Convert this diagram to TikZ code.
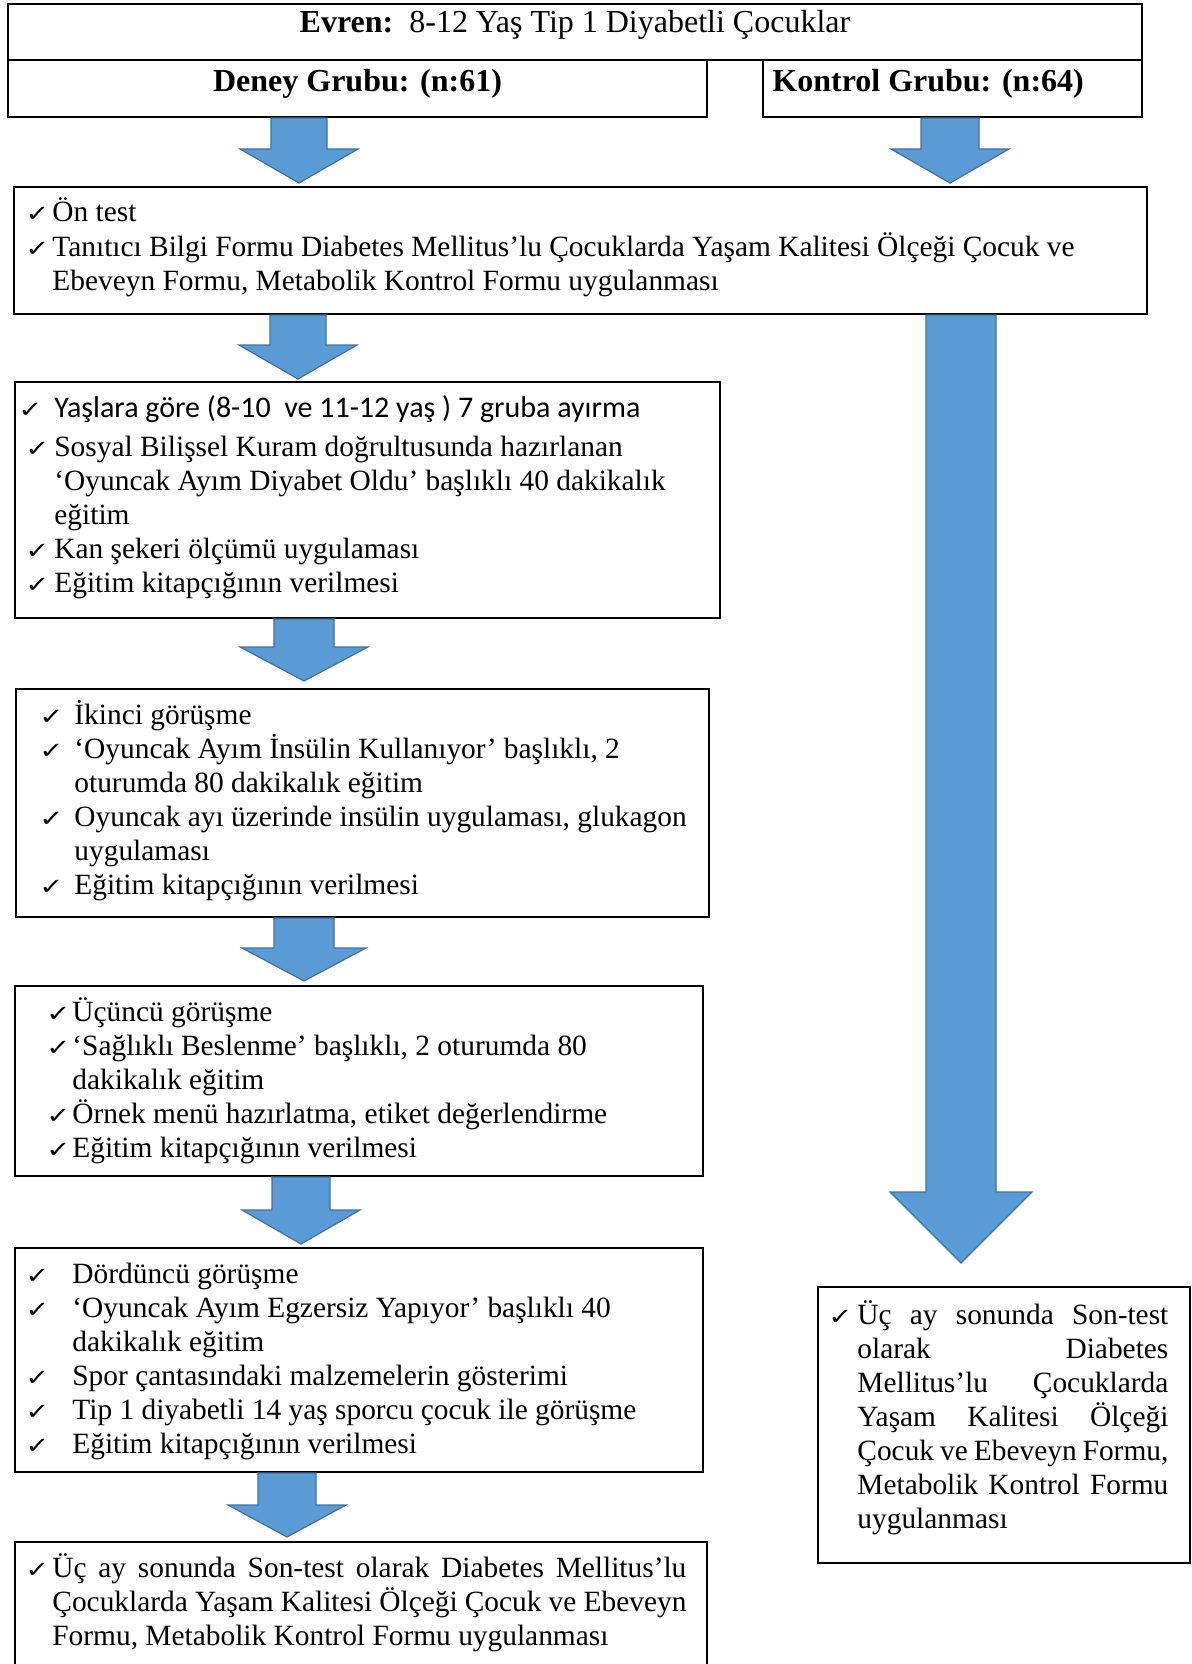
\documentclass[tikz,border=0pt]{standalone}
\usepackage{fontspec}
\setmainfont{Liberation Serif}
\newfontfamily\calibri{Carlito}
\newfontfamily\chkfont{DejaVu Sans}
\usepackage{array}
\usetikzlibrary{calc}

\newlength{\pxu}\setlength{\pxu}{0.5pt}
\definecolor{arrowblue}{RGB}{91,155,213}
\definecolor{arrowedge}{RGB}{65,113,156}
\newcommand{\ck}{\scalebox{1}[0.78]{\chkfont\fontsize{14.5}{14.5}\selectfont ✓}}
\newcommand{\jline}[2]{\makebox[#1\pxu][s]{#2}}
\newenvironment{checks}[1]{\begin{tabular}[t]{@{}p{#1\pxu}@{}l@{}}}{\end{tabular}}
% fat block arrow: from, to, shaft half width, head half width, head length, gap
\newcommand{\bigarrow}[6]{%
  \filldraw[fatarrow] ($(#1)+(-#3,0)$) -- ($(#2)+(-#3,-#5-#6)$) -- ($(#2)+(-#4,-#5-#6)$)
    -- ($(#2)+(0,-#6)$) -- ($(#2)+(#4,-#5-#6)$) -- ($(#2)+(#3,-#5-#6)$) -- ($(#1)+(#3,0)$) -- cycle;}

\begin{document}
\begin{tikzpicture}[x=0.5pt, y=-0.5pt,
    box/.style={draw, line width=1pt, inner sep=0pt, anchor=north west},
    txt/.style={inner sep=0pt, anchor=base west, font=\fontsize{14.7}{17}\selectfont},
    head/.style={txt, font=\fontsize{16}{17}\selectfont},
    fatarrow/.style={fill=arrowblue, draw=arrowedge, line width=0.6pt}
  ]
\useasboundingbox (0,0) rectangle (1192,1664);

% Population and groups
\node[box, minimum width=1134\pxu, minimum height=56\pxu] (evren) at (7,3) {};
\node[head, anchor=base] (evrent) at ($(evren.north)+(0,30)$) {\textbf{Evren:}\ \ 8-12 Yaş Tip 1 Diyabetli Çocuklar};
\node[box, minimum width=699\pxu, minimum height=57\pxu] (deney) at (7,59) {};
\node[head, anchor=base] (deneyt) at ($(deney.north)+(0,33)$) {\textbf{Deney Grubu: (n:61)}};
\node[box, minimum width=379\pxu, minimum height=57\pxu] (kontrol) at (762,59) {};
\node[head] (kontrolt) at ($(kontrol.north west)+(10,33)$) {\textbf{Kontrol Grubu: (n:64)}};

% Pre-test
\node[box, minimum width=1133\pxu, minimum height=127\pxu] (ontest) at (13,186) {};
\node[txt] (ontestt) at ($(ontest.north west)+(12,36)$) {\begin{checks}{27}
\ck & Ön test\\
\ck & Tanıtıcı Bilgi Formu Diabetes Mellitus’lu Çocuklarda Yaşam Kalitesi Ölçeği Çocuk ve\\
    & Ebeveyn Formu, Metabolik Kontrol Formu uygulanması
\end{checks}};

% First meeting
\node[box, minimum width=705\pxu, minimum height=236\pxu] (ilk) at (14,381) {};
\node[txt] (ilkt) at ($(ilk.north west)+(11,36)$) {\begin{checks}{29}
\hspace*{-7\pxu}\ck & {\calibri\fontsize{15}{17}\selectfont Yaşlara göre (8-10\ \ ve 11-12 yaş ) 7 gruba ayırma}\\[2.5pt]
\ck & Sosyal Bilişsel Kuram doğrultusunda hazırlanan\\
    & ‘Oyuncak Ayım Diyabet Oldu’ başlıklı 40 dakikalık\\
    & eğitim\\
\ck & Kan şekeri ölçümü uygulaması\\
\ck & Eğitim kitapçığının verilmesi
\end{checks}};

% Second meeting
\node[box, minimum width=693\pxu, minimum height=228\pxu] (ikinci) at (15,688) {};
\node[txt] (ikincit) at ($(ikinci.north west)+(24,36)$) {\begin{checks}{35}
\ck & İkinci görüşme\\
\ck & ‘Oyuncak Ayım İnsülin Kullanıyor’ başlıklı, 2\\
    & oturumda 80 dakikalık eğitim\\
\ck & Oyuncak ayı üzerinde insülin uygulaması, glukagon\\
    & uygulaması\\
\ck & Eğitim kitapçığının verilmesi
\end{checks}};

% Third meeting
\node[box, minimum width=688\pxu, minimum height=190\pxu] (ucuncu) at (14,985) {};
\node[txt] (ucuncut) at ($(ucuncu.north west)+(32,36)$) {\begin{checks}{26}
\ck & Üçüncü görüşme\\
\ck & ‘Sağlıklı Beslenme’ başlıklı, 2 oturumda 80\\
    & dakikalık eğitim\\
\ck & Örnek menü hazırlatma, etiket değerlendirme\\
\ck & Eğitim kitapçığının verilmesi
\end{checks}};

% Fourth meeting
\node[box, minimum width=688\pxu, minimum height=224\pxu] (dorduncu) at (14,1247) {};
\node[txt] (dorduncut) at ($(dorduncu.north west)+(11,36)$) {\begin{checks}{47}
\ck & Dördüncü görüşme\\
\ck & ‘Oyuncak Ayım Egzersiz Yapıyor’ başlıklı 40\\
    & dakikalık eğitim\\
\ck & Spor çantasındaki malzemelerin gösterimi\\
\ck & Tip 1 diyabetli 14 yaş sporcu çocuk ile görüşme\\
\ck & Eğitim kitapçığının verilmesi
\end{checks}};

% Post-test, experimental group
\node[box, minimum width=692\pxu, minimum height=160\pxu] (sontestD) at (14,1541) {};
\node[txt] (sontestDt) at ($(sontestD.north west)+(11,36)$) {\begin{checks}{27}
\ck & \jline{634}{Üç ay sonunda Son-test olarak Diabetes Mellitus’lu}\\
    & \jline{634}{Çocuklarda Yaşam Kalitesi Ölçeği Çocuk ve Ebeveyn}\\
    & Formu, Metabolik Kontrol Formu uygulanması
\end{checks}};

% Post-test, control group
\node[box, minimum width=372\pxu, minimum height=276\pxu] (sontestK) at (817,1286) {};
\node[txt] (sontestKt) at ($(sontestK.north west)+(11,38)$) {\begin{checks}{29}
\ck & \jline{311}{Üç ay sonunda Son-test}\\
    & \jline{311}{olarak Diabetes}\\
    & \jline{311}{Mellitus’lu Çocuklarda}\\
    & \jline{311}{Yaşam Kalitesi Ölçeği}\\
    & \jline{311}{Çocuk ve Ebeveyn Formu,}\\
    & \jline{311}{Metabolik Kontrol Formu}\\
    & uygulanması
\end{checks}};

% Block arrows between the stages
\foreach \src/\dst/\xc/\sw/\hw/\hl/\gap in {deney/ontest/299/28/59/34/3, kontrol/ontest/950/29/59/34/3,
    ontest/ilk/298/28/59/34/2, ilk/ikinci/304/30/64/34/7, ikinci/ucuncu/304/30/62/33/4,
    ucuncu/dorduncu/301/29/59/34/3, dorduncu/sontestD/287/29/59/32/4, ontest/sontestK/961/35/71/71/23}{
  \path (\src.south -| \xc,0) coordinate (top) (\dst.north -| \xc,0) coordinate (tip);
  \bigarrow{top}{tip}{\sw}{\hw}{\hl}{\gap}
}

\end{tikzpicture}
\end{document}
